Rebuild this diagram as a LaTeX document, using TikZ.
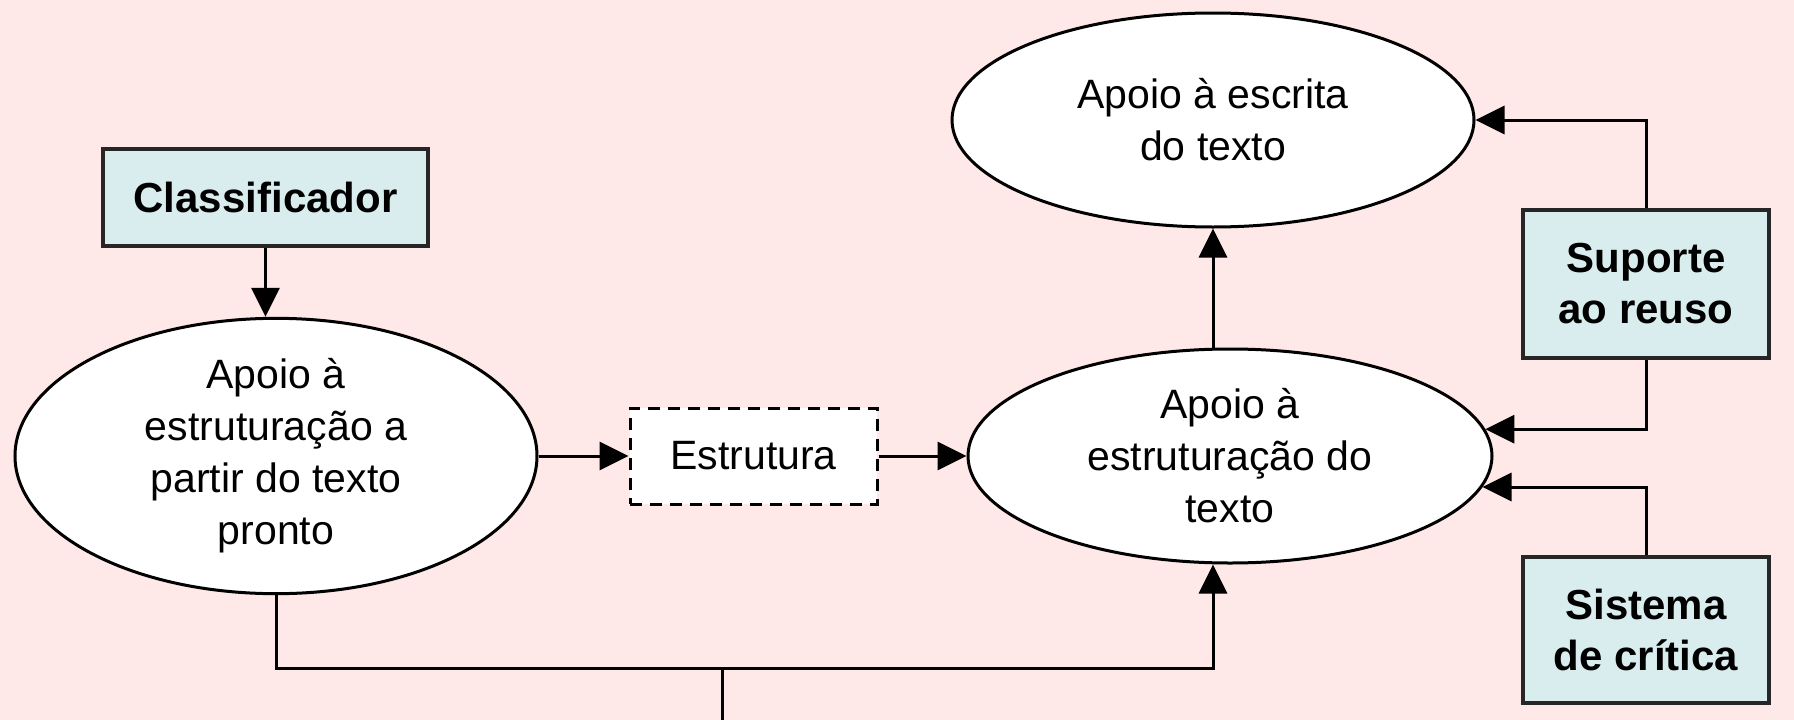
\documentclass[tikz,border=0pt]{standalone}
\usepackage{fontspec}
\setmainfont{Liberation Sans}
\usetikzlibrary{shapes.geometric,arrows.meta}
\definecolor{bgpink}{HTML}{FFE8E8}
\definecolor{boxfill}{HTML}{DAEDEE}
\definecolor{boxline}{HTML}{262626}
\tikzset{
  box/.style={draw=boxline,line width=4pt,fill=boxfill,rectangle,inner sep=0pt,align=center,
    font=\fontsize{42}{51}\selectfont\bfseries},
  oval/.style={draw=black,line width=3pt,fill=white,ellipse,inner sep=0pt,align=center,
    font=\fontsize{41}{52}\selectfont},
  dbox/.style={draw=black,line width=3pt,fill=white,rectangle,dash pattern=on 12pt off 8pt,inner sep=0pt,
    font=\fontsize{41}{52}\selectfont},
  arr/.style={line width=3pt,-{Triangle[length=29pt,width=28pt]}},
  ln/.style={line width=3pt}
}
\begin{document}
\begin{tikzpicture}[x=1pt,y=-1pt]
\fill[bgpink] (0,0) rectangle (1794,720);
\useasboundingbox (0,0) rectangle (1794,720);

\node[box,minimum width=325pt,minimum height=97pt] (cls) at (265.5,197.5) {Classificador};
\node[oval,minimum width=522pt,minimum height=266pt] (e1) at (276,456) {Apoio à\\estruturação a\\partir do texto\\pronto};
\node[dbox,minimum width=247pt,minimum height=96pt] (est) at (753.5,456) {Estrutura};
\node[oval,minimum width=524pt,minimum height=214pt] (e2) at (1230,456) {Apoio à\\estruturação do\\texto};
\node[oval,minimum width=522pt,minimum height=214pt] (e3) at (1213,120) {Apoio à escrita\\do texto};
\node[box,minimum width=246pt,minimum height=148pt] (sup) at (1646,284) {Suporte\\ao reuso};
\node[box,minimum width=246pt,minimum height=146pt] (sis) at (1646,630) {Sistema\\de crítica};

\coordinate (j) at (722,668);
\coordinate (jend) at (722,722);

\draw[arr] (cls.south) -- (cls.south |- e1.north);
\draw[arr] (e1.east) -- (est.west);
\draw[arr] (est.east) -- (e2.west);
\draw[arr] (e3.south |- e2.north) -- (e3.south);
\draw[arr] (sup.north) |- (e3.east);
\draw[arr] (sup.south) |- (e2.6.6);
\draw[arr] (sis.north) |- (e2.-7);
\draw[arr] (e1.south) |- (j) -| (e3.south |- e2.south);
\draw[ln] (j) -- (jend);
\end{tikzpicture}
\end{document}
